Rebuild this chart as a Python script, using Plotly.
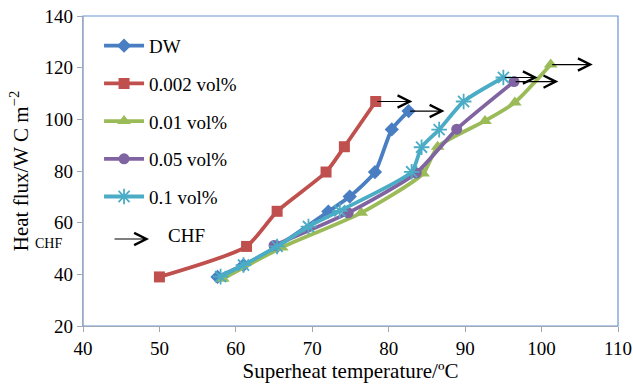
import plotly.graph_objects as go

# ---------------- data ----------------
series_names = ["DW", "0.002 vol%", "0.01 vol%", "0.05 vol%", "0.1 vol%"]

dw_x = [57.6, 61.0, 65.4, 72.1, 74.9, 78.2, 80.4, 82.6]
dw_y = [39.0, 43.6, 50.8, 64.3, 70.1, 79.6, 96.1, 103.2]

c002_x = [50.0, 61.4, 65.4, 71.8, 74.2, 78.3]
c002_y = [39.0, 50.8, 64.4, 79.6, 89.4, 106.9]

c01_x = [58.3, 66.0, 76.4, 84.5, 86.4, 92.6, 96.5, 101.2]
c01_y = [38.3, 50.4, 63.8, 79.0, 89.4, 99.4, 106.5, 121.2]

c05_x = [65.0, 74.7, 83.6, 88.9, 96.4]
c05_y = [51.2, 63.8, 79.2, 96.2, 114.6]

c1_x = [58.0, 61.0, 65.4, 69.5, 73.6, 83.0, 84.3, 86.6, 89.8, 95.0]
c1_y = [39.1, 43.6, 50.8, 58.5, 64.6, 79.7, 89.2, 96.0, 106.9, 116.2]

# CHF arrow end (x) for each series, arrow starts at the last point
chf_end_x = [87.3, 83.1, 106.7, 102.2, 99.5]

x_ticks = [40, 50, 60, 70, 80, 90, 100, 110]
y_ticks = [20, 40, 60, 80, 100, 120, 140]

# ---------------- styles ----------------
colors = ["#4A7EC2", "#C0504D", "#9BBB59", "#8064A2", "#4BACC6"]
symbols = ["diamond", "square", "triangle-up", "circle", "asterisk-open"]
msizes = [11, 11, 12, 11, 13]
FONT = "Liberation Serif"

xs = [dw_x, c002_x, c01_x, c05_x, c1_x]
ys = [dw_y, c002_y, c01_y, c05_y, c1_y]

fig = go.Figure()
for i in range(5):
    fig.add_trace(go.Scatter(
        x=xs[i], y=ys[i], name=series_names[i],
        mode="lines+markers",
        line=dict(color=colors[i], width=3.8, shape="spline", smoothing=0.6),
        marker=dict(symbol=symbols[i], size=msizes[i], color=colors[i],
                    line=dict(color=colors[i], width=1.8 if i == 4 else 0)),
        legendgroup=f"g{i}",
    ))

# dummy legend entry for CHF (arrow drawn as annotation)
fig.add_trace(go.Scatter(
    x=[None], y=[None], mode="lines", name="\u00a0\u00a0\u00a0\u00a0CHF",
    line=dict(color="rgba(0,0,0,0)", width=1), legendgroup="chf",
))

annotations = []
for i in range(5):
    annotations.append(dict(
        x=chf_end_x[i], y=ys[i][-1], ax=xs[i][-1], ay=ys[i][-1],
        xref="x", yref="y", axref="x", ayref="y",
        showarrow=True, arrowhead=5, arrowsize=2.0, arrowwidth=1.2,
        arrowcolor="black", text="", standoff=0, startstandoff=0,
    ))

# legend CHF arrow
annotations.append(dict(
    x=0.1234, y=0.2806, ax=-36, ay=0,
    xref="paper", yref="paper", axref="pixel", ayref="pixel",
    showarrow=True, arrowhead=5, arrowsize=2.0, arrowwidth=1.2,
    arrowcolor="black", text="",
))

# stray "CHF" subscript next to y title
annotations.append(dict(
    x=-0.064, y=0.267, xref="paper", yref="paper", text="CHF",
    xanchor="center", yanchor="middle",
    showarrow=False, font=dict(family=FONT, size=14, color="black"),
))

fig.update_layout(
    width=633, height=387,
    margin=dict(l=83, r=15, t=16, b=61),
    paper_bgcolor="white", plot_bgcolor="white",
    font=dict(family=FONT, size=19, color="black"),
    showlegend=True,
    legend=dict(x=0.03, y=0.965, xanchor="left", yanchor="top",
                bgcolor="rgba(0,0,0,0)", tracegroupgap=10,
                font=dict(family=FONT, size=19, color="black"),
                itemwidth=40),
    annotations=annotations,
    shapes=[dict(type="rect", xref="paper", yref="paper", x0=0, y0=0, x1=1, y1=1,
                 line=dict(color="#6A95D3", width=1.2), layer="below")],
)

fig.update_xaxes(
    range=[40, 110], tickvals=x_ticks, ticktext=[str(v) for v in x_ticks],
    showgrid=False, zeroline=False, showline=True, linecolor="#A0A8B6", linewidth=1.2,
    ticks="outside", ticklen=5, tickcolor="#A0A8B6", automargin=False,
    tickfont=dict(family=FONT, size=19, color="black"),
    title=dict(text="Superheat temperature/ºC", font=dict(family=FONT, size=21), standoff=0),
)
fig.update_yaxes(
    range=[20, 140], tickvals=y_ticks, ticktext=[str(v) for v in y_ticks],
    showgrid=False, zeroline=False, showline=True, linecolor="#A0A8B6", linewidth=1.2,
    ticks="outside", ticklen=5, tickcolor="#A0A8B6", automargin=False,
    tickfont=dict(family=FONT, size=19, color="black"),
    title=dict(text="Heat flux/W C m<sup>−2</sup>", font=dict(family=FONT, size=21), standoff=10),
)

fig.write_html("out.html")
